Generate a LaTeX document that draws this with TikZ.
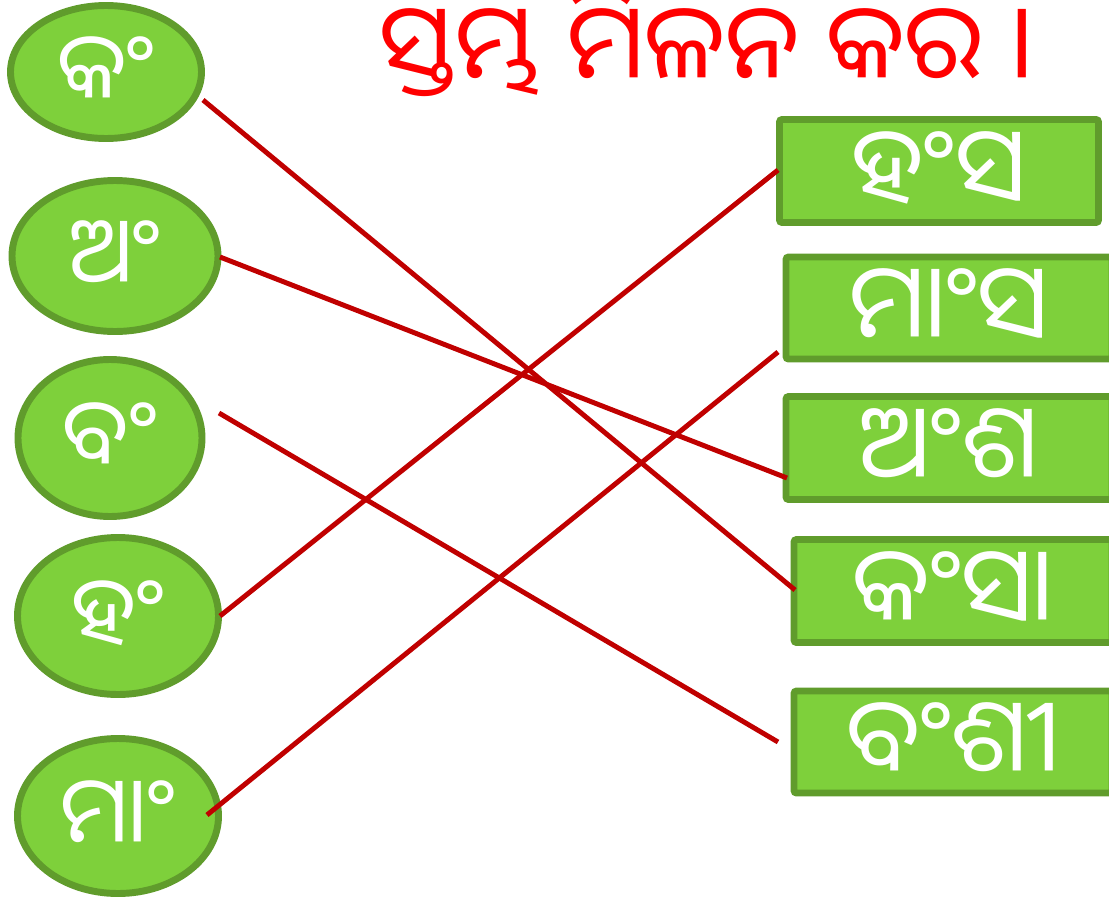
\documentclass[tikz,border=0pt]{standalone}
\usepackage{fontspec}
\newfontfamily\oriya[Script=Oriya]{Noto Sans Oriya UI}
\usetikzlibrary{shapes.geometric,calc}
\definecolor{leaf}{RGB}{126,208,59}
\definecolor{leafedge}{RGB}{96,156,44}
\definecolor{linkred}{RGB}{192,0,0}
\definecolor{titlered}{RGB}{255,0,0}
\begin{document}
\begin{tikzpicture}[x=0.75pt,y=-0.75pt,
  oval/.style={ellipse,draw=leafedge,fill=leaf,line width=5.2pt,inner sep=0pt,
    text=white,font=\oriya\fontsize{69}{72}\selectfont},
  wordbox/.style={rectangle,rounded corners=2pt,draw=leafedge,fill=leaf,line width=5.2pt,inner sep=0pt,
    text=white,font=\oriya\fontsize{77}{80}\selectfont},
  link/.style={draw=linkred,line width=3.7pt}]
\useasboundingbox (0,0) rectangle (1109,899);
\node[text=titlered,inner sep=0pt,font=\oriya\fontsize{78}{80}\selectfont] (title) at (707,43) {ସ୍ତମ୍ଭ ମିଳନ କର ।};
\node[oval,minimum width=191*0.75pt,minimum height=133*0.75pt] (ka) at (106,72) {କଂ};
\node[oval,minimum width=206*0.75pt,minimum height=151*0.75pt] (a) at (115,256) {ଅଂ};
\node[oval,minimum width=184*0.75pt,minimum height=157*0.75pt] (ba) at (110,438) {ବଂ};
\node[oval,minimum width=201*0.75pt,minimum height=157*0.75pt] (ha) at (118,616) {ହଂ};
\node[oval,minimum width=201*0.75pt,minimum height=155*0.75pt] (ma) at (118,816) {ମାଂ};
\node[wordbox,minimum width=319*0.75pt,minimum height=103*0.75pt] (hamsa) at (939,171) {ହଂସ};
\node[wordbox,minimum width=326*0.75pt,minimum height=102*0.75pt] (mamsa) at (949,308) {ମାଂସ};
\node[wordbox,minimum width=326*0.75pt,minimum height=103*0.75pt] (amsa) at (949,448) {ଅଂଶ};
\node[wordbox,minimum width=318*0.75pt,minimum height=103*0.75pt] (kamsa) at (953,591) {କଂସା};
\node[wordbox,minimum width=318*0.75pt,minimum height=102*0.75pt] (bamsi) at (953,742) {ବଂଶୀ};
\coordinate (kaEnd) at (203,100);
\coordinate (aEnd) at (220,257);
\coordinate (baEnd) at (219,413);
\coordinate (haEnd) at (220,616);
\coordinate (maEnd) at (207,815);
\coordinate (kamsaEnd) at (795,590);
\coordinate (amsaEnd) at (787,478);
\coordinate (bamsiEnd) at (778,742);
\coordinate (hamsaEnd) at (778,170);
\coordinate (mamsaEnd) at (778,352);
\draw[link] (kaEnd) -- (kamsaEnd);
\draw[link] (aEnd) -- (amsaEnd);
\draw[link] (baEnd) -- (bamsiEnd);
\draw[link] (haEnd) -- (hamsaEnd);
\draw[link] (maEnd) -- (mamsaEnd);
\end{tikzpicture}
\end{document}
